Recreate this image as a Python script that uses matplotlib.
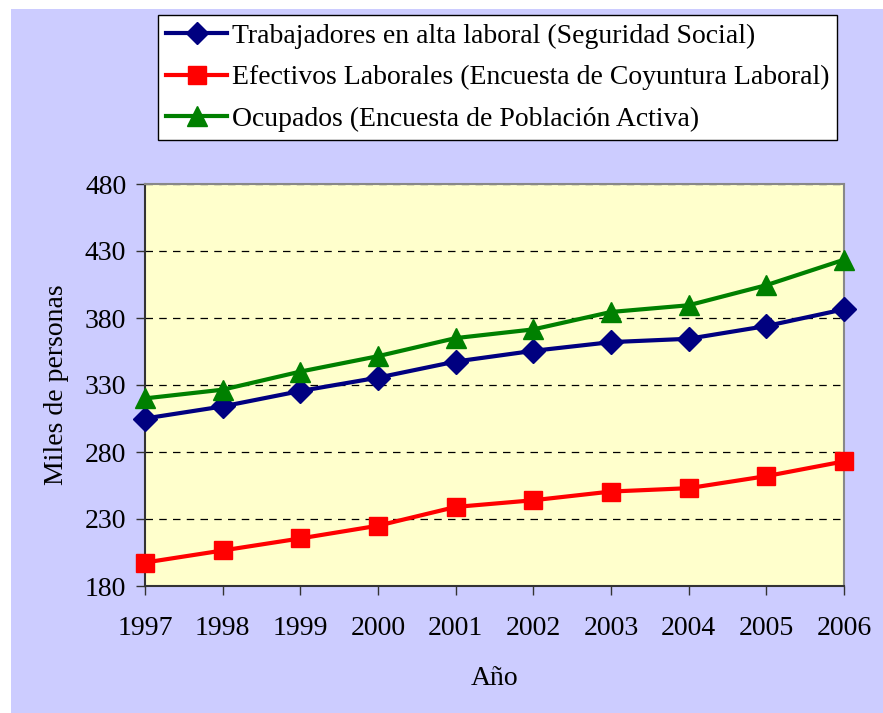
import matplotlib.pyplot as plt
from matplotlib.patches import Rectangle

# Data
years = [1997, 1998, 1999, 2000, 2001, 2002, 2003, 2004, 2005, 2006]
seg_social = [305, 314, 325.5, 335.5, 347.5, 355.5, 362, 364.5, 374, 386.5]
coyuntura = [197.5, 206.5, 215.5, 225, 239, 244, 250.5, 253, 262, 273]
epa = [320, 326.5, 340, 351.5, 365, 371.5, 384.5, 389.5, 404.5, 423.5]

labels = ['Trabajadores en alta laboral (Seguridad Social)',
          'Efectivos Laborales (Encuesta de Coyuntura Laboral)',
          'Ocupados (Encuesta de Población Activa)']

plt.rcParams['font.family'] = ['Liberation Serif', 'DejaVu Serif']

W, H = 883, 713
fig = plt.figure(figsize=(W / 100, H / 100), dpi=100)
fig.patch.set_facecolor('white')
# lavender background with white strip on top/left
fig.patches.append(Rectangle((11 / W, 0), 1, 1 - 9 / H, transform=fig.transFigure,
                             facecolor='#CCCCFF', edgecolor='none', zorder=-10))

ax = fig.add_axes([145 / W, 1 - 586 / H, (844 - 145) / W, (586 - 184) / H])
ax.set_facecolor('#FFFFCC')

l1, = ax.plot(years, seg_social, color='#000080', lw=3, marker='D', ms=12,
              clip_on=False, zorder=3)
l2, = ax.plot(years, coyuntura, color='#FF0000', lw=3, marker='s', ms=13.5,
              clip_on=False, zorder=3)
l3, = ax.plot(years, epa, color='#008000', lw=3, marker='^', ms=14.5,
              clip_on=False, zorder=3)

ax.set_xlim(1997, 2006)
ax.set_ylim(180, 480)
ax.set_xticks(years)
ax.set_yticks(range(180, 481, 50))
ax.tick_params(axis='both', labelsize=20, direction='out', length=6.5,
               color='#333333', width=1)
ax.tick_params(axis='x', pad=15)
ax.tick_params(axis='y', pad=7)
ax.yaxis.grid(True, linestyle=(0, (6, 5)), color='black', lw=0.9)
ax.set_axisbelow(True)

for s in ['left', 'bottom']:
    ax.spines[s].set_color('#333333')
    ax.spines[s].set_linewidth(1.5)
for s in ['top', 'right']:
    ax.spines[s].set_color('#888888')
    ax.spines[s].set_linewidth(1.5)

ax.set_xlabel('Año', fontsize=20, labelpad=18)
ax.set_ylabel('Miles de personas', fontsize=20, labelpad=11)

leg = fig.legend([l1, l2, l3], labels, loc='upper left',
                 bbox_to_anchor=(158 / W, 1 - 15 / H), fontsize=20,
                 frameon=True, fancybox=False, edgecolor='black',
                 facecolor='white', framealpha=1, handlelength=2.2,
                 handletextpad=0.15, borderpad=0.3, labelspacing=0.58,
                 markerscale=0.95, borderaxespad=0)
leg.get_frame().set_linewidth(1.0)

fig.savefig('out.png', dpi=100)
